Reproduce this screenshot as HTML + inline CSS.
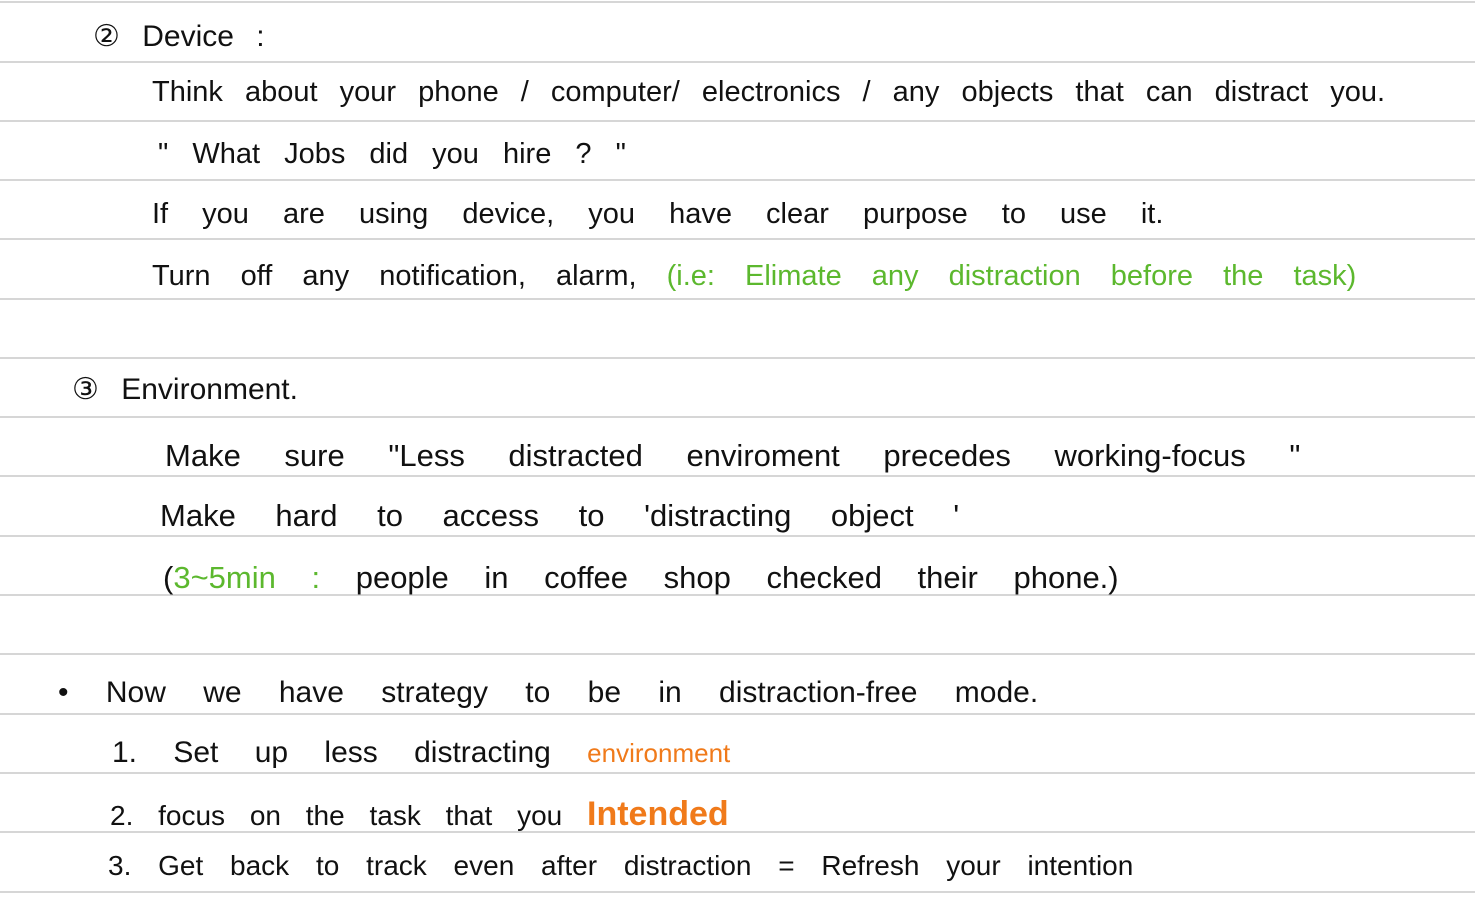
<!DOCTYPE html>
<html><head><meta charset="utf-8"><style>
body{margin:0;width:1475px;height:902px;background:#fff;position:relative;overflow:hidden;font-family:"Liberation Sans",sans-serif;color:#111}
.l{position:absolute;left:0;width:1475px;height:2px;background:#d6d6d6}
.t{position:absolute;white-space:nowrap;font-size:29px;line-height:1;word-spacing:14px}
.g{color:#5cb82e}.o{color:#f07a1a}
</style></head><body>
<div class="l" style="top:1px"></div>
<div class="l" style="top:61px"></div>
<div class="l" style="top:120px"></div>
<div class="l" style="top:179px"></div>
<div class="l" style="top:238px"></div>
<div class="l" style="top:298px"></div>
<div class="l" style="top:357px"></div>
<div class="l" style="top:416px"></div>
<div class="l" style="top:475px"></div>
<div class="l" style="top:535px"></div>
<div class="l" style="top:594px"></div>
<div class="l" style="top:653px"></div>
<div class="l" style="top:713px"></div>
<div class="l" style="top:772px"></div>
<div class="l" style="top:831px"></div>
<div class="l" style="top:891px"></div>

<div class="t" style="left:93px;top:22px;font-size:30px">② Device :</div>
<div class="t" style="left:152px;top:78px;word-spacing:14px">Think about your phone / computer/ electronics / any objects that can distract you.</div>
<div class="t" style="left:158px;top:140px;word-spacing:16px">" What Jobs did you hire ? "</div>
<div class="t" style="left:152px;top:200px;word-spacing:26px">If you are using device, you have clear purpose to use it.</div>
<div class="t" style="left:152px;top:262px;word-spacing:22px">Turn off any notification, alarm, <span class="g">(i.e: Elimate any distraction before the task)</span></div>

<div class="t" style="left:72px;top:375px;font-size:30px">③ Environment.</div>
<div class="t" style="left:165px;top:440px;font-size:31px;word-spacing:35px">Make sure "Less distracted enviroment precedes working-focus "</div>
<div class="t" style="left:160px;top:500px;font-size:31px;word-spacing:31px">Make hard to access to 'distracting object '</div>
<div class="t" style="left:163px;top:562px;font-size:31px;word-spacing:27px">(<span class="g">3~5min :</span> people in coffee shop checked their phone.)</div>

<div class="t" style="left:58px;top:678px;font-size:30px;word-spacing:29px">• Now we have strategy to be in distraction-free mode.</div>
<div class="t" style="left:112px;top:738px;font-size:30px;word-spacing:28px">1. Set up less distracting <span class="o" style="font-size:26px">environment</span></div>
<div class="t" style="left:110px;top:797px;font-size:28px;word-spacing:17px">2. focus on the task that you <span class="o" style="font-size:34px;font-weight:bold">Intended</span></div>
<div class="t" style="left:108px;top:852px;font-size:28px;word-spacing:19px">3. Get back to track even after distraction = Refresh your intention</div>
</body></html>
